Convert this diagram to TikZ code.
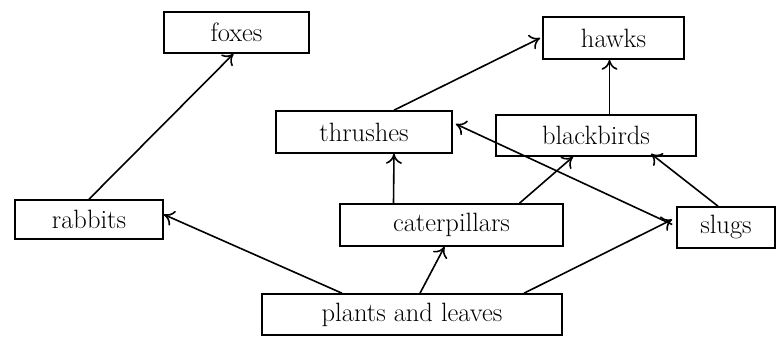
\documentclass[tikz,border=0pt]{standalone}
\usetikzlibrary{arrows.meta}
\begin{document}
\begin{tikzpicture}[x=1pt, y=-1pt]
\useasboundingbox (0,0) rectangle (782,340);

\tikzset{every node/.style={draw, line width=1.6pt, inner sep=0pt, font=\fontsize{26.5}{30}\selectfont}}
\node[minimum width=145pt, minimum height=41pt] (foxes) at (236.5, 32.5) {foxes};
\node[minimum width=141pt, minimum height=42pt] (hawks) at (613.5, 38) {hawks};
\node[minimum width=176pt, minimum height=42pt] (thrushes) at (364, 132) {thrushes};
\node[minimum width=200pt, minimum height=41pt] (blackbirds) at (596, 135.5) {blackbirds};
\node[minimum width=148pt, minimum height=39pt] (rabbits) at (89, 219.5) {rabbits};
\node[minimum width=223pt, minimum height=42pt] (caterpillars) at (451.5, 225) {caterpillars};
\node[minimum width=98pt, minimum height=41pt] (slugs) at (726, 227.5) {slugs};
\node[minimum width=300pt, minimum height=41pt] (plants) at (412, 314.5) {plants and leaves};

\tikzset{mystyle/.style={-{To[length=10pt, width=16pt, line width=1.6pt]}, line width=1.6pt}};
\path (rabbits.north) edge [mystyle] ([xshift=-3pt]foxes.south);
\path ([xshift=-70pt]plants.north) edge [mystyle] ([yshift=5pt]rabbits.east);
\path ([xshift=8pt]plants.north) edge [mystyle] ([xshift=-7pt]caterpillars.south);
\path ([xshift=112pt]plants.north) edge [mystyle] ([yshift=8pt, xshift=-4pt]slugs.west);
\path ([xshift=-58pt]caterpillars.north) edge [mystyle] ([xshift=30pt]thrushes.south);
\path ([xshift=68pt]caterpillars.north) edge [mystyle] ([xshift=-23pt]blackbirds.south);
\path ([yshift=3pt, xshift=-4pt]slugs.west) edge [mystyle] ([yshift=8pt, xshift=3pt]thrushes.east);
\path ([xshift=-8pt]slugs.north) edge [mystyle] ([xshift=55pt, yshift=3pt]blackbirds.south);
\path ([xshift=30pt]thrushes.north) edge [mystyle] ([xshift=-2pt]hawks.west);
\path ([xshift=-4pt]blackbirds.north -| hawks.south) edge [mystyle] ([xshift=-4pt]hawks.south);
\end{tikzpicture}
\end{document}
